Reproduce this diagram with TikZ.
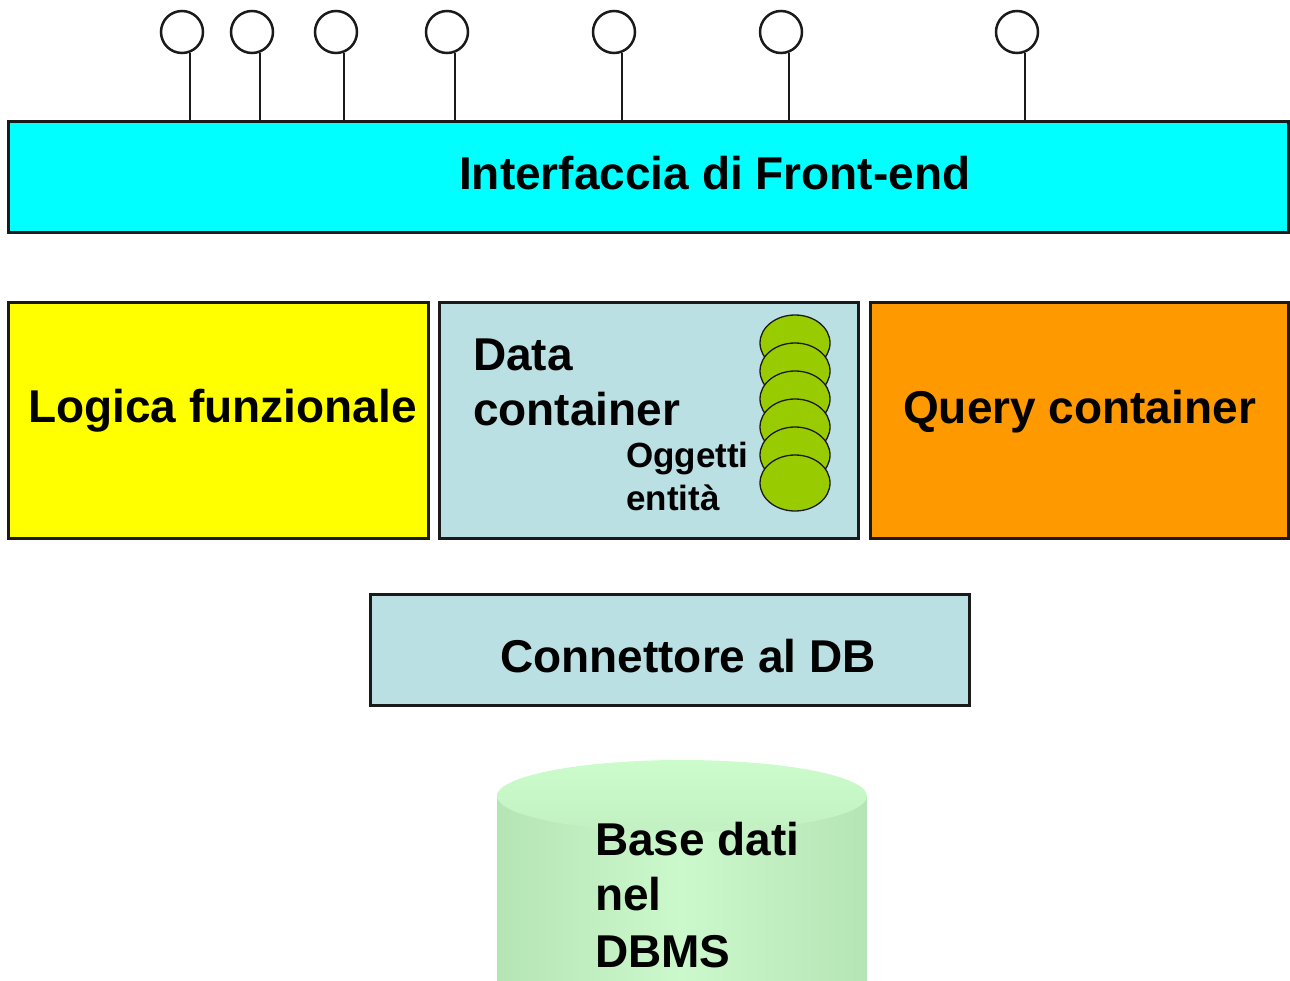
\documentclass[tikz,border=0pt]{standalone}
\usepackage{fontspec}
\setmainfont{Liberation Sans}
\usetikzlibrary{shapes.geometric}
\definecolor{barcyan}{HTML}{00FFFF}
\definecolor{logyellow}{HTML}{FFFF00}
\definecolor{paleblue}{HTML}{BBE0E3}
\definecolor{qorange}{HTML}{FF9900}
\definecolor{objgreen}{HTML}{99CC00}
\definecolor{dbedge}{HTML}{B5E4B5}
\definecolor{dbmid}{HTML}{CCF9CC}
\definecolor{dbtop}{HTML}{CCFCCC}
\definecolor{dbtopb}{HTML}{C2F0C2}
\definecolor{edge}{HTML}{1A1A1A}
\begin{document}
\begin{tikzpicture}[x=1pt,y=-1pt,
  layerbox/.style={draw=edge, line width=3pt, inner sep=0pt, rectangle},
  bigtext/.style={anchor=base west, inner sep=0pt, font=\fontsize{46}{55}\selectfont\bfseries},
  smalltext/.style={anchor=base west, inner sep=0pt, font=\fontsize{35}{43}\selectfont\bfseries},
  lolly/.style={circle, draw=edge, line width=2.5pt, fill=white, minimum size=42pt, inner sep=0pt},
  stem/.style={draw=edge, line width=1.8pt},
  obj/.style={ellipse, draw=edge, line width=1.3pt, fill=objgreen, minimum width=70pt, minimum height=56pt, inner sep=0pt}
]
\useasboundingbox (0,0) rectangle (1290,980);
\clip (0,0) rectangle (1290,980);

% front-end bar
\node[layerbox, fill=barcyan, minimum width=1280pt, minimum height=111pt] (bar) at (648,176.5) {};
\node[bigtext] (bartxt) at (459,189) {Interfaccia di Front-end};

% lollipops
\foreach \n/\cx in {1/182,2/252,3/336,4/447,5/614,6/781,7/1017}{
  \node[lolly] (c\n) at (\cx,32) {};
  \draw[stem] (c\n.-68) -- (c\n.-68 |- bar.north);
}

% middle layer
\node[layerbox, fill=logyellow, minimum width=420pt, minimum height=236pt] (logica) at (218,420) {};
\node[bigtext] (logtxt) at (28,422) {Logica funzionale};

\node[layerbox, fill=paleblue, minimum width=419pt, minimum height=236pt] (data) at (648.5,420) {};
\node[bigtext] (datatxt1) at (473,370) {Data};
\node[bigtext] (datatxt2) at (473,425) {container};

\foreach \n/\cy in {1/343,2/371,3/399,4/427,5/455,6/483}{
  \node[obj] (e\n) at (795,\cy) {};
}
\node[smalltext] (objtxt1) at (626,467) {Oggetti};
\node[smalltext] (objtxt2) at (626,510) {entità};

\node[layerbox, fill=qorange, minimum width=418pt, minimum height=236pt] (query) at (1079,420) {};
\node[bigtext] (querytxt) at (903,423) {Query container};

% connector
\node[layerbox, fill=paleblue, minimum width=599pt, minimum height=111pt] (conn) at (669.5,649.5) {};
\node[bigtext] (conntxt) at (500,672) {Connettore al DB};

% database cylinder
\shade[left color=dbedge, right color=dbedge, middle color=dbmid]
  (497,796) rectangle (867,1000);
\shade[top color=dbtop, bottom color=dbtopb]
  (682,796) ellipse [x radius=185pt, y radius=36pt];
\node[bigtext] (dbtxt1) at (595,855) {Base dati};
\node[bigtext] (dbtxt2) at (595,910) {nel};
\node[bigtext] (dbtxt3) at (595,967) {DBMS};
\end{tikzpicture}
\end{document}
